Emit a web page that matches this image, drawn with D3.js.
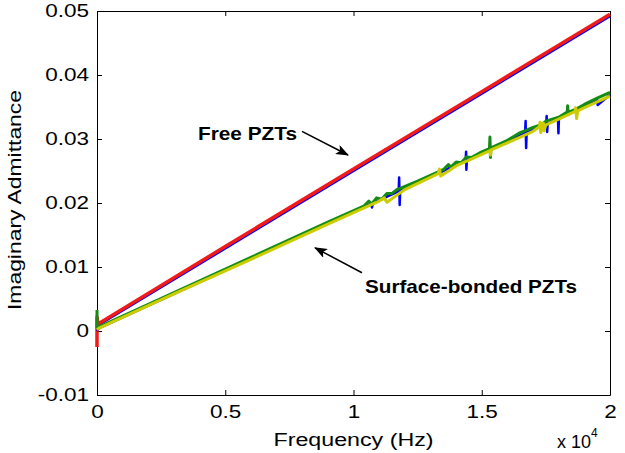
<!DOCTYPE html>
<html>
<head>
<meta charset="utf-8">
<script src="https://cdn.jsdelivr.net/npm/d3@7"></script>
<style>
    body { margin: 0; background: #fff; }
    svg text { font-family: "Liberation Sans", Arial, sans-serif; fill: #000; }
    .axis path, .axis line { stroke: #000; }
</style>
</head>
<body>
<div id="chart"></div>
<script>
    // [frequency (Hz), imaginary admittance]
    // free PZTs
    var freeBlue = [[0, 0.0008], [5000, 0.0129], [10000, 0.0250], [15000, 0.0371], [20000, 0.0492]];
    var freeRed = [[0, -0.0025], [0, 0.0022], [40, 0.0011], [5000, 0.0132], [10000, 0.0253], [15000, 0.0374], [20000, 0.0495]];

    // surface-bonded PZTs
    var bondedBlue = [[0, 0.0000], [100, 0.0005], [3000, 0.0058], [6000, 0.0113], [9000, 0.0168],
        [10700, 0.0199], [10720, 0.0193], [10750, 0.0200], [11760, 0.0218], [11780, 0.0240], [11800, 0.0197],
        [11820, 0.0220], [13000, 0.0241], [14370, 0.0266], [14390, 0.0280], [14400, 0.0252], [14420, 0.0267],
        [15000, 0.0278], [16000, 0.0296], [16690, 0.0309], [16710, 0.0328], [16730, 0.0286], [16750, 0.0310],
        [17510, 0.0323], [17530, 0.0336], [17550, 0.0311], [17570, 0.0324], [17950, 0.0331], [17970, 0.0333],
        [17990, 0.0309], [18010, 0.0333], [19000, 0.0351], [19480, 0.0359], [19500, 0.0361], [19520, 0.0353],
        [20000, 0.0369]];
    var bondedGreen = [[0, 0.0033], [0, 0.0005], [100, 0.0007], [3000, 0.0060], [6000, 0.0115], [9000, 0.0170],
        [10400, 0.0195], [10600, 0.0203], [10700, 0.0198], [10900, 0.0208], [11100, 0.0206], [11300, 0.0215],
        [11500, 0.0215], [11700, 0.0221], [12500, 0.0234], [13500, 0.0252], [13700, 0.0260], [13800, 0.0256],
        [14000, 0.0264], [14200, 0.0263], [14400, 0.0272], [14600, 0.0271], [15000, 0.0280], [15300, 0.0285],
        [15320, 0.0303], [15340, 0.0271], [15360, 0.0286], [16000, 0.0298], [16500, 0.0310], [16700, 0.0313],
        [17000, 0.0318], [17300, 0.0322], [17500, 0.0328], [18000, 0.0334], [18330, 0.0342], [18350, 0.0352],
        [18370, 0.0338], [18400, 0.0342], [18700, 0.0347], [19000, 0.0354], [19500, 0.0364], [20000, 0.0373]];
    var bondedYellow = [[0, 0.0002], [100, 0.0005], [3000, 0.0058], [6000, 0.0112], [9000, 0.0167],
        [11000, 0.0203], [11200, 0.0208], [11300, 0.0201], [12000, 0.0221], [13000, 0.0240], [13300, 0.0246],
        [13350, 0.0253], [13400, 0.0242], [14000, 0.0258], [15000, 0.0276], [15320, 0.0282], [15340, 0.0275],
        [15360, 0.0283], [16000, 0.0294], [17000, 0.0312], [17250, 0.0319], [17270, 0.0326], [17300, 0.0310],
        [17400, 0.0325], [17430, 0.0313], [17500, 0.0322], [18000, 0.0331], [18640, 0.0343], [18660, 0.0349],
        [18700, 0.0332], [18740, 0.0344], [19000, 0.0349], [20000, 0.0367]];

    var xTicks = [0, 5000, 10000, 15000, 20000];
    var xTickLabels = ["0", "0.5", "1", "1.5", "2"];
    var yTicks = [-0.01, 0, 0.01, 0.02, 0.03, 0.04, 0.05];
    var yTickLabels = ["-0.01", "0", "0.01", "0.02", "0.03", "0.04", "0.05"];

    // annotations: text position, arrow start, arrow end (data units)
    var noteNames = ["Free PZTs", "Surface-bonded PZTs"];
    var noteText = [[3938, 0.0298], [10448, 0.0059]];
    var noteFrom = [[7992, 0.0312], [10331, 0.0091]];
    var noteTo = [[9786, 0.0275], [8499, 0.0130]];

    var margin = {top: 11, right: 15, bottom: 58, left: 97};
    var width = 625 - margin.left - margin.right;
    var height = 453 - margin.top - margin.bottom;

    var x = d3.scaleLinear().domain([0, 20000]).range([0, width]);
    var y = d3.scaleLinear().domain([-0.01, 0.05]).range([height, 0]);

    var root = d3.select("#chart").append("svg")
            .attr("width", 625)
            .attr("height", 453);

    root.append("defs").append("marker")
            .attr("id", "arrow")
            .attr("markerUnits", "userSpaceOnUse")
            .attr("markerWidth", 14)
            .attr("markerHeight", 10)
            .attr("refX", 12)
            .attr("refY", 5)
            .attr("orient", "auto")
            .append("path")
            .attr("d", "M0,0 L13,5 L0,10 L3,5 Z")
            .attr("fill", "#000");

    var svg = root.append("g")
            .attr("transform", "translate(" + margin.left + "," + margin.top + ")");

    // axes, ticks pointing inward on all four sides
    var xAxis = svg.append("g")
            .attr("class", "axis")
            .attr("transform", "translate(0," + height + ")")
            .call(d3.axisBottom(x).tickValues(xTicks).tickSize(-5).tickSizeOuter(0).tickPadding(10)
                    .tickFormat(function(d, i) { return xTickLabels[i]; }));
    svg.append("g")
            .attr("class", "axis")
            .call(d3.axisTop(x).tickValues(xTicks).tickSize(-5).tickSizeOuter(0).tickFormat(""));
    var yAxis = svg.append("g")
            .attr("class", "axis")
            .call(d3.axisLeft(y).tickValues(yTicks).tickSize(-5).tickSizeOuter(0).tickPadding(8)
                    .tickFormat(function(d, i) { return yTickLabels[i]; }));
    svg.append("g")
            .attr("class", "axis")
            .attr("transform", "translate(" + width + ",0)")
            .call(d3.axisRight(y).tickValues(yTicks).tickSize(-5).tickSizeOuter(0).tickFormat(""));

    xAxis.selectAll("text")
            .style("font-size", "18px")
            .attr("transform", "scale(1.25,1)");
    yAxis.selectAll("text")
            .style("font-size", "18px")
            .attr("x", -8 / 1.25)
            .attr("transform", "scale(1.25,1)");

    var line = d3.line()
            .x(function(d) { return x(d[0]); })
            .y(function(d) { return y(d[1]); });

    var series = [
        [freeBlue, "#0000ff", 2.5],
        [freeRed, "#f01a1a", 3.5],
        [bondedBlue, "#0000ff", 2.5],
        [bondedGreen, "#148c14", 3],
        [bondedYellow, "#cccc00", 3]
    ];
    series.forEach(function(s) {
        svg.append("path")
                .datum(s[0])
                .attr("d", line)
                .attr("fill", "none")
                .attr("stroke", s[1])
                .attr("stroke-width", s[2])
                .attr("stroke-linejoin", "round");
    });

    // annotations
    noteNames.forEach(function(name, i) {
        svg.append("line")
                .attr("x1", x(noteFrom[i][0]))
                .attr("y1", y(noteFrom[i][1]))
                .attr("x2", x(noteTo[i][0]))
                .attr("y2", y(noteTo[i][1]))
                .attr("stroke", "#000")
                .attr("stroke-width", 1.5)
                .attr("marker-end", "url(#arrow)");
        svg.append("text")
                .attr("x", x(noteText[i][0]))
                .attr("y", y(noteText[i][1]))
                .style("font-size", "19px")
                .style("font-weight", "bold")
                .attr("textLength", i == 0 ? 99 : 212)
                .attr("lengthAdjust", "spacingAndGlyphs")
                .text(name);
    });

    // axis titles
    root.append("text")
            .attr("x", margin.left + width / 2)
            .attr("y", 446)
            .attr("text-anchor", "middle")
            .style("font-size", "18px")
            .attr("textLength", 160)
            .attr("lengthAdjust", "spacingAndGlyphs")
            .text("Frequency (Hz)");
    root.append("text")
            .attr("transform", "translate(21," + (margin.top + height / 2 - 3) + ") rotate(-90)")
            .attr("text-anchor", "middle")
            .style("font-size", "18px")
            .attr("textLength", 220)
            .attr("lengthAdjust", "spacingAndGlyphs")
            .text("Imaginary Admittance");

    // x 10^4 multiplier
    var mult = root.append("text")
            .attr("x", 557)
            .attr("y", 448)
            .style("font-size", "18px");
    mult.append("tspan").text("x 10");
    mult.append("tspan")
            .attr("dy", -11)
            .style("font-size", "12px")
            .text("4");
</script>
</body>
</html>
